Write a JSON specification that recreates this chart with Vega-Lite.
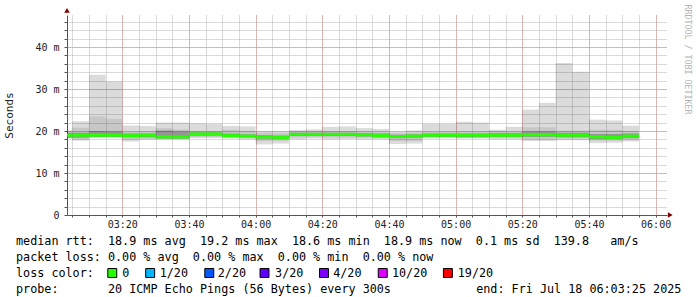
{
  "$schema": "https://vega.github.io/schema/vega-lite/v6.json",
  "autosize": {"type": "none"},
  "width": 600,
  "height": 200,
  "padding": {"left": 67, "top": 15, "right": 30, "bottom": 82},
  "background": "white",
  "config": {
    "view": {"stroke": null},
    "axis": {
      "labelFont": "DejaVu Sans Mono",
      "labelFontSize": 10,
      "labelColor": "#222222",
      "domainColor": "#555555",
      "tickColor": "#555555",
      "gridDash": [1, 1],
      "gridOpacity": 1,
      "gridWidth": 1,
      "titleFont": "DejaVu Sans Mono",
      "titleFontSize": 11,
      "titleFontWeight": "normal",
      "titleColor": "#222222",
      "labelOverlap": false,
      "labelFlush": false
    }
  },
  "resolve": {"axis": {"x": "independent", "y": "independent"}},
  "datasets": {
    "ping": [
      {"t":180,"t2":185,"lo":18.3,"hi":20.1,"b1":18.3,"b2":20.1,"c1":18.4,"c2":19.6,"med":19.0},
      {"t":185,"t2":190,"lo":17.7,"hi":22.3,"b1":18.0,"b2":20.8,"c1":18.4,"c2":19.6,"med":19.0},
      {"t":190,"t2":195,"lo":18.4,"hi":33.4,"b1":18.5,"b2":23.5,"c1":18.6,"c2":20.0,"med":19.0},
      {"t":195,"t2":200,"lo":18.4,"hi":31.8,"b1":18.5,"b2":22.9,"c1":18.6,"c2":19.9,"med":19.0},
      {"t":200,"t2":205,"lo":17.5,"hi":21.3,"b1":18.0,"b2":19.8,"c1":18.5,"c2":19.4,"med":18.9},
      {"t":205,"t2":210,"lo":17.9,"hi":21.2,"b1":18.2,"b2":19.9,"c1":18.5,"c2":19.4,"med":19.0},
      {"t":210,"t2":215,"lo":18.0,"hi":22.0,"b1":18.1,"b2":20.7,"c1":18.2,"c2":20.1,"med":18.6},
      {"t":215,"t2":220,"lo":18.0,"hi":22.0,"b1":18.1,"b2":20.4,"c1":18.2,"c2":19.9,"med":18.6},
      {"t":220,"t2":225,"lo":18.3,"hi":21.8,"b1":18.5,"b2":20.0,"c1":18.9,"c2":19.7,"med":19.3},
      {"t":225,"t2":230,"lo":18.3,"hi":21.7,"b1":18.5,"b2":20.0,"c1":18.9,"c2":19.7,"med":19.3},
      {"t":230,"t2":235,"lo":18.2,"hi":21.2,"b1":18.4,"b2":20.3,"c1":18.6,"c2":19.4,"med":18.9},
      {"t":235,"t2":240,"lo":18.0,"hi":21.1,"b1":18.3,"b2":20.0,"c1":18.5,"c2":19.2,"med":18.8},
      {"t":240,"t2":245,"lo":16.8,"hi":19.9,"b1":17.6,"b2":19.6,"c1":18.2,"c2":19.0,"med":18.6},
      {"t":245,"t2":250,"lo":17.0,"hi":19.9,"b1":17.7,"b2":19.5,"c1":18.2,"c2":18.9,"med":18.5},
      {"t":250,"t2":255,"lo":18.0,"hi":20.2,"b1":18.4,"b2":20.0,"c1":18.8,"c2":19.6,"med":19.2},
      {"t":255,"t2":260,"lo":18.2,"hi":20.4,"b1":18.5,"b2":20.0,"c1":18.8,"c2":19.6,"med":19.2},
      {"t":260,"t2":265,"lo":18.0,"hi":21.0,"b1":18.4,"b2":20.0,"c1":18.8,"c2":19.6,"med":19.2},
      {"t":265,"t2":270,"lo":18.1,"hi":21.1,"b1":18.4,"b2":20.0,"c1":18.8,"c2":19.6,"med":19.2},
      {"t":270,"t2":275,"lo":18.0,"hi":20.7,"b1":18.4,"b2":19.9,"c1":18.7,"c2":19.5,"med":19.1},
      {"t":275,"t2":280,"lo":18.0,"hi":20.5,"b1":18.3,"b2":19.8,"c1":18.5,"c2":19.4,"med":18.9},
      {"t":280,"t2":285,"lo":16.9,"hi":19.8,"b1":17.6,"b2":19.5,"c1":18.3,"c2":19.1,"med":18.7},
      {"t":285,"t2":290,"lo":17.0,"hi":20.1,"b1":17.6,"b2":19.6,"c1":18.4,"c2":19.2,"med":18.8},
      {"t":290,"t2":295,"lo":18.2,"hi":21.7,"b1":18.4,"b2":19.8,"c1":18.6,"c2":19.4,"med":19.0},
      {"t":295,"t2":300,"lo":18.3,"hi":21.7,"b1":18.4,"b2":19.8,"c1":18.6,"c2":19.4,"med":19.0},
      {"t":300,"t2":305,"lo":18.2,"hi":22.2,"b1":18.4,"b2":19.9,"c1":18.5,"c2":19.4,"med":19.0},
      {"t":305,"t2":310,"lo":18.2,"hi":22.0,"b1":18.4,"b2":19.9,"c1":18.5,"c2":19.4,"med":19.0},
      {"t":310,"t2":315,"lo":18.0,"hi":20.3,"b1":18.3,"b2":20.0,"c1":18.6,"c2":19.5,"med":19.0},
      {"t":315,"t2":320,"lo":18.0,"hi":21.0,"b1":18.3,"b2":19.9,"c1":18.6,"c2":19.5,"med":19.0},
      {"t":320,"t2":325,"lo":17.6,"hi":25.1,"b1":18.0,"b2":20.9,"c1":18.6,"c2":19.9,"med":19.1},
      {"t":325,"t2":330,"lo":17.6,"hi":26.7,"b1":18.0,"b2":20.9,"c1":18.6,"c2":19.9,"med":19.1},
      {"t":330,"t2":335,"lo":17.8,"hi":36.2,"b1":18.2,"b2":20.1,"c1":18.5,"c2":19.6,"med":19.0},
      {"t":335,"t2":340,"lo":17.8,"hi":34.1,"b1":18.2,"b2":20.1,"c1":18.5,"c2":19.6,"med":19.0},
      {"t":340,"t2":345,"lo":17.1,"hi":22.7,"b1":17.7,"b2":20.3,"c1":18.1,"c2":19.3,"med":18.6},
      {"t":345,"t2":350,"lo":17.2,"hi":22.5,"b1":17.7,"b2":20.3,"c1":18.1,"c2":19.3,"med":18.5},
      {"t":350,"t2":355,"lo":17.5,"hi":21.3,"b1":17.9,"b2":20.0,"c1":18.3,"c2":19.4,"med":18.8}
    ],
    "lines": [
      {"x":168.12,"y":-6.19,"text":"median\u00a0rtt:\u00a0\u00a018.9\u00a0ms\u00a0avg\u00a0\u00a019.2\u00a0ms\u00a0max\u00a0\u00a018.6\u00a0ms\u00a0min\u00a0\u00a018.9\u00a0ms\u00a0now\u00a0\u00a00.1\u00a0ms\u00a0sd\u00a0\u00a0139.8\u00a0\u00a0\u00a0am/s"},
      {"x":168.12,"y":-10.0,"text":"packet\u00a0loss:\u00a00.00\u00a0%\u00a0avg\u00a0\u00a00.00\u00a0%\u00a0max\u00a0\u00a00.00\u00a0%\u00a0min\u00a0\u00a00.00\u00a0%\u00a0now"},
      {"x":168.12,"y":-13.81,"text":"loss\u00a0color:"},
      {"x":199.98,"y":-13.81,"text":"0"},
      {"x":211.23,"y":-13.81,"text":"1/20"},
      {"x":228.65,"y":-13.81,"text":"2/20"},
      {"x":245.85,"y":-13.81,"text":"3/20"},
      {"x":263.27,"y":-13.81,"text":"4/20"},
      {"x":280.90,"y":-13.81,"text":"10/20"},
      {"x":300.65,"y":-13.81,"text":"19/20"},
      {"x":168.12,"y":-17.62,"text":"probe:\u00a0\u00a0\u00a0\u00a0\u00a0\u00a0\u00a020\u00a0ICMP\u00a0Echo\u00a0Pings\u00a0(56\u00a0Bytes)\u00a0every\u00a0300s"},
      {"x":306.18,"y":-17.62,"text":"end:\u00a0Fri\u00a0Jul\u00a018\u00a006:03:25\u00a02025"}
    ],
    "loss": [
      {"x":197.0,"y":-13.81,"label":"0"},
      {"x":208.37,"y":-13.81,"label":"1/20"},
      {"x":226.1,"y":-13.81,"label":"2/20"},
      {"x":242.67,"y":-13.81,"label":"3/20"},
      {"x":260.51,"y":-13.81,"label":"4/20"},
      {"x":278.14,"y":-13.81,"label":"10/20"},
      {"x":297.68,"y":-13.81,"label":"19/20"}
    ]
  },
  "layer": [
    {
      "data": {"name": "ping"},
      "mark": {"type": "rect", "color": "#000000", "opacity": 0.14, "clip": true},
      "encoding": {
        "x": {
          "field": "t", "type": "quantitative",
          "scale": {"domain": [183.4167, 363.4167], "nice": false, "zero": false},
          "axis": {
            "orient": "bottom",
            "values": [185,190,195,200,205,210,215,220,225,230,235,240,245,250,255,260,265,270,275,280,285,290,295,300,305,310,315,320,325,330,335,340,345,350,355,360],
            "title": null,
            "grid": true,
            "gridColor": "#b4b4b4",
            "gridDash": [1, 1],
            "tickSize": 2,
            "labelExpr": "datum.value % 20 == 0 ? (floor(datum.value / 60) < 10 ? '0' : '') + floor(datum.value / 60) + ':' + (datum.value % 60 < 10 ? '0' : '') + (datum.value % 60) : ''",
            "labelPadding": 2
          }
        },
        "x2": {"field": "t2"},
        "y": {
          "field": "lo", "type": "quantitative",
          "scale": {"domain": [0, 47.62], "nice": false, "zero": false},
          "axis": {
            "orient": "left",
            "values": [0,2,4,6,8,10,12,14,16,18,20,22,24,26,28,30,32,34,36,38,40,42,44,46],
            "title": "Seconds",
            "titlePadding": 20,
            "grid": true,
            "gridColor": "#b4b4b4",
            "gridDash": [1, 1],
            "tickSize": 3,
            "labelExpr": "datum.value % 10 == 0 ? (datum.value == 0 ? '0\u00a0\u00a0' : datum.value + '\u00a0m') : ''",
            "labelPadding": 5
          }
        },
        "y2": {"field": "hi"}
      }
    },
    {
      "data": {"name": "ping"},
      "mark": {"type": "rect", "color": "#000000", "opacity": 0.09, "clip": true},
      "encoding": {
        "x": {
          "field": "t", "type": "quantitative",
          "axis": {"orient": "bottom", "values": [200,220,240,260,280,300,320,340,360], "grid": true, "gridColor": "#dd8f8f", "gridDash": [1, 1], "labels": false, "ticks": false, "domain": false, "title": null}
        },
        "x2": {"field": "t2"},
        "y": {
          "field": "b1", "type": "quantitative",
          "axis": {"orient": "left", "values": [10,20,30,40], "grid": true, "gridColor": "#dd8f8f", "gridDash": [1, 1], "labels": false, "ticks": false, "domain": false, "title": null}
        },
        "y2": {"field": "b2"}
      }
    },
    {
      "data": {"name": "ping"},
      "mark": {"type": "rect", "color": "#000000", "opacity": 0.25, "clip": true},
      "encoding": {
        "x": {"field": "t", "type": "quantitative", "axis": null},
        "x2": {"field": "t2"},
        "y": {"field": "c1", "type": "quantitative", "axis": null},
        "y2": {"field": "c2"}
      }
    },
    {
      "data": {"name": "ping"},
      "mark": {"type": "rule", "color": "#26ff00", "strokeWidth": 3, "strokeCap": "butt", "clip": true},
      "encoding": {
        "x": {"field": "t", "type": "quantitative", "axis": null},
        "x2": {"field": "t2"},
        "y": {"field": "med", "type": "quantitative", "axis": null}
      }
    },
    {
      "data": {"values": [{}]},
      "mark": {"type": "point", "shape": "triangle-right", "filled": true, "color": "#800000", "opacity": 1, "size": 30},
      "encoding": {
        "x": {"datum": 364.4, "type": "quantitative", "axis": null},
        "y": {"datum": 0, "type": "quantitative", "axis": null}
      }
    },
    {
      "data": {"values": [{}]},
      "mark": {"type": "point", "shape": "triangle-up", "filled": true, "color": "#800000", "opacity": 1, "size": 30},
      "encoding": {
        "x": {"datum": 183.4167, "type": "quantitative", "axis": null},
        "y": {"datum": 48.7, "type": "quantitative", "axis": null}
      }
    },
    {
      "data": {"values": [{"text": "RRDTOOL / TOBI OETIKER"}]},
      "mark": {"type": "text", "angle": 90, "align": "left", "baseline": "middle", "font": "DejaVu Sans Mono", "fontSize": 8.3, "color": "#b4b4b4"},
      "encoding": {
        "x": {"datum": 369.3, "type": "quantitative", "axis": null},
        "y": {"datum": 50.1, "type": "quantitative", "axis": null},
        "text": {"field": "text"}
      }
    },
    {
      "data": {"name": "lines"},
      "mark": {"type": "text", "align": "left", "baseline": "middle", "font": "DejaVu Sans Mono", "fontSize": 11.76, "color": "#000000"},
      "encoding": {
        "x": {"field": "x", "type": "quantitative", "axis": null},
        "y": {"field": "y", "type": "quantitative", "axis": null},
        "text": {"field": "text"}
      }
    },
    {
      "data": {"name": "loss"},
      "mark": {"type": "point", "shape": "square", "filled": true, "size": 80, "stroke": "#000000", "strokeWidth": 1, "opacity": 1},
      "encoding": {
        "x": {"field": "x", "type": "quantitative", "axis": null},
        "y": {"field": "y", "type": "quantitative", "axis": null},
        "fill": {
          "field": "label", "type": "nominal", "legend": null,
          "scale": {"domain": ["0","1/20","2/20","3/20","4/20","10/20","19/20"], "range": ["#26ff00","#00b8ff","#0059ff","#5e00ff","#7e00ff","#dd00ff","#ff0000"]}
        }
      }
    }
  ]
}
